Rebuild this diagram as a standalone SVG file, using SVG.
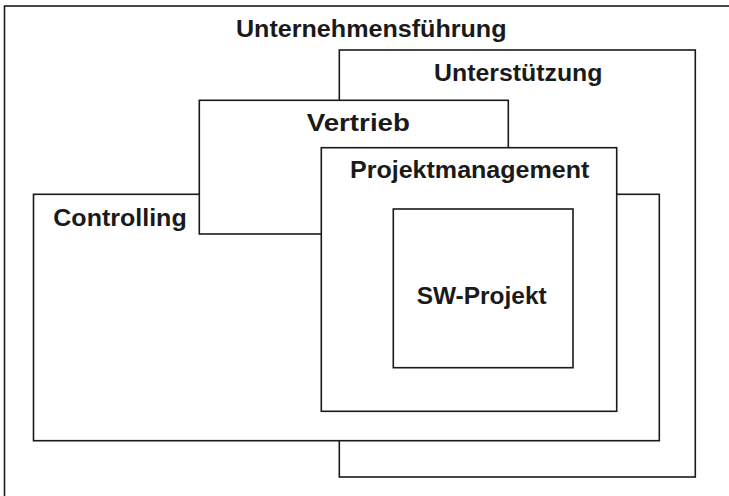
<svg xmlns="http://www.w3.org/2000/svg" width="729" height="496" viewBox="0 0 729 496">
<style>
.box{fill:#fff;stroke:#1a1a1a;stroke-width:1.6}
.lbl{font-family:"Liberation Sans",Arial,sans-serif;font-weight:bold;font-size:23.5px;fill:#1a1a1a}
</style>
<rect width="729" height="496" fill="#fff"/>
<g id="unternehmensfuehrung">
<rect class="box" x="4.5" y="6" width="740" height="500"/>
<text class="lbl" x="236" y="37" textLength="270.5" lengthAdjust="spacingAndGlyphs">Unternehmensführung</text>
</g>
<g id="unterstuetzung">
<rect class="box" x="339.3" y="50" width="356" height="427"/>
<text class="lbl" x="434" y="81" textLength="168.5" lengthAdjust="spacingAndGlyphs">Unterstützung</text>
</g>
<g id="controlling">
<rect class="box" x="33.5" y="194.3" width="625.8" height="246.4"/>
<text class="lbl" x="53.3" y="226" textLength="133.4" lengthAdjust="spacingAndGlyphs">Controlling</text>
</g>
<g id="vertrieb">
<rect class="box" x="199.3" y="100.3" width="309" height="133.7"/>
<text class="lbl" x="306.7" y="130.7" textLength="103.3" lengthAdjust="spacingAndGlyphs">Vertrieb</text>
</g>
<g id="projektmanagement">
<rect class="box" x="321.3" y="147.7" width="295.4" height="263.6"/>
<text class="lbl" x="350" y="178.3" textLength="239.3" lengthAdjust="spacingAndGlyphs">Projektmanagement</text>
</g>
<g id="sw-projekt">
<rect class="box" x="393.3" y="209" width="179.7" height="158.7"/>
<text class="lbl" x="416.7" y="303.5" textLength="130" lengthAdjust="spacingAndGlyphs">SW-Projekt</text>
</g>
<g id="connectors"></g>
</svg>
